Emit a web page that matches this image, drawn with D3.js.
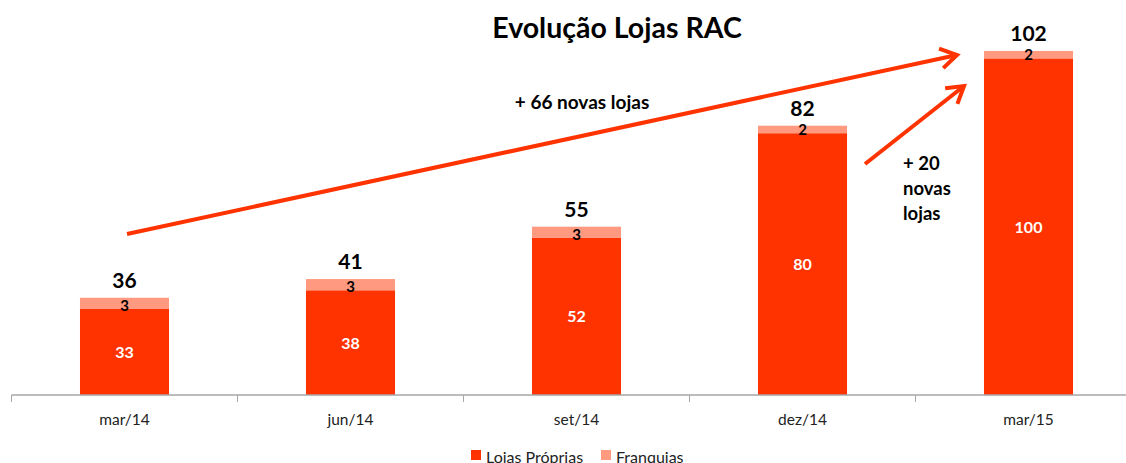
<!DOCTYPE html>
<html>
<head>
<meta charset="utf-8">
<script src="https://cdn.jsdelivr.net/npm/d3@7"></script>
<style>
  html, body { margin: 0; padding: 0; background: #fff; }
  #chart { width: 1126px; height: 463px; overflow: hidden; }
  text { font-family: Lato, "Open Sans", sans-serif; }
</style>
</head>
<body>
<div id="chart"></div>
<script>
// chart data
const periods = ['mar/14', 'jun/14', 'set/14', 'dez/14', 'mar/15'];
const proprias = [33, 38, 52, 80, 100];
const franquias = [3, 3, 3, 2, 2];
const seriesNames = ['Lojas Próprias', 'Franquias'];
const seriesColors = ['#ff3300', '#ff9980'];

const width = 1126, height = 463;
const margin = { left: 11.5, right: -15.5, top: 21, bottom: 68 };

const svg = d3.select('#chart').append('svg')
  .attr('width', width)
  .attr('height', height);

const x = d3.scaleBand()
  .domain(periods)
  .range([margin.left, width - margin.right])
  .paddingInner(0.606)
  .paddingOuter(0.303);

// value axis in the original starts at 10
const y = d3.scaleLinear()
  .domain([10, 110])
  .range([height - margin.bottom, margin.top]);

const rows = periods.map((p, i) => ({ period: p, proprias: proprias[i], franquias: franquias[i] }));
const stacked = d3.stack().keys(['proprias', 'franquias'])(rows);

// title
svg.append('text')
  .attr('x', 617).attr('y', 38)
  .attr('text-anchor', 'middle')
  .style('font-size', '28.5px').style('font-weight', 'bold')
  .text('Evolução Lojas RAC');

// bars
stacked.forEach((layer, li) => {
  svg.append('g').selectAll('rect')
    .data(layer)
    .join('rect')
    .attr('x', d => x(d.data.period))
    .attr('width', x.bandwidth())
    .attr('y', d => y(d[1]))
    .attr('height', d => y(Math.max(d[0], 10)) - y(d[1]))
    .attr('fill', seriesColors[li]);
});

// axis
const axisY = height - margin.bottom;
const step = x.step();
const tickXs = periods.map(p => x(p) + x.bandwidth() / 2 - step / 2);
const axisG = svg.append('g');
axisG.append('line')
  .attr('x1', tickXs[0]).attr('x2', width)
  .attr('y1', axisY).attr('y2', axisY)
  .attr('stroke', '#a6a6a6').attr('stroke-width', 1.5);
axisG.selectAll('line.tick')
  .data(tickXs)
  .join('line')
  .attr('class', 'tick')
  .attr('x1', d => d).attr('x2', d => d)
  .attr('y1', axisY).attr('y2', axisY + 7)
  .attr('stroke', '#a6a6a6');
axisG.selectAll('text')
  .data(periods)
  .join('text')
  .attr('x', d => x(d) + x.bandwidth() / 2)
  .attr('y', axisY + 30)
  .attr('text-anchor', 'middle')
  .style('font-size', '15.5px').attr('fill', '#222')
  .text(d => d);

// labels inside bars
svg.append('g').selectAll('text')
  .data(stacked[0])
  .join('text')
  .attr('x', d => x(d.data.period) + x.bandwidth() / 2)
  .attr('y', d => (y(d[1]) + y(10)) / 2 + 6)
  .attr('text-anchor', 'middle')
  .attr('fill', '#fff')
  .style('font-size', '16px').style('font-weight', 'bold')
  .text(d => d.data.proprias);

svg.append('g').selectAll('text')
  .data(stacked[1])
  .join('text')
  .attr('x', d => x(d.data.period) + x.bandwidth() / 2)
  .attr('y', d => y(d[0]) + 2)
  .attr('text-anchor', 'middle')
  .attr('fill', '#000')
  .style('font-size', '15px').style('font-weight', 'bold')
  .text(d => d.data.franquias);

// totals
svg.append('g').selectAll('text')
  .data(stacked[1])
  .join('text')
  .attr('x', d => x(d.data.period) + x.bandwidth() / 2)
  .attr('y', d => y(d[1]) - 10)
  .attr('text-anchor', 'middle')
  .attr('fill', '#000')
  .style('font-size', '21px').style('font-weight', 'bold')
  .text(d => d.data.proprias + d.data.franquias);

// arrows
function arrow(x1, y1, x2, y2) {
  const g = svg.append('g')
    .attr('stroke', '#ff3300').attr('stroke-width', 4)
    .attr('fill', 'none').attr('stroke-linecap', 'butt');
  g.append('line').attr('x1', x1).attr('y1', y1).attr('x2', x2).attr('y2', y2);
  const a = Math.atan2(y2 - y1, x2 - x1);
  const len = 19, spread = 0.55;
  const pts = [
    [x2 - len * Math.cos(a - spread), y2 - len * Math.sin(a - spread)],
    [x2, y2],
    [x2 - len * Math.cos(a + spread), y2 - len * Math.sin(a + spread)]
  ];
  g.append('path').attr('d', d3.line()(pts)).attr('stroke-linejoin', 'miter');
}
arrow(127, 234, 957, 55);
arrow(865, 164, 964, 86);

svg.append('text')
  .attr('x', 582).attr('y', 109)
  .attr('text-anchor', 'middle')
  .style('font-size', '19px').style('font-weight', 'bold')
  .text('+ 66 novas lojas');

const note = svg.append('text')
  .attr('x', 903).attr('y', 170)
  .style('font-size', '18.5px').style('font-weight', 'bold');
['+ 20', 'novas', 'lojas'].forEach((t, i) => {
  note.append('tspan').attr('x', 903).attr('dy', i ? 25 : 0).text(t);
});

// legend
const legend = svg.append('g');
const legendItems = [{ x: 471, name: seriesNames[0], color: seriesColors[0] }, { x: 601, name: seriesNames[1], color: seriesColors[1] }];
legendItems.forEach(it => {
  legend.append('rect').attr('x', it.x).attr('y', 450).attr('width', 10).attr('height', 10).attr('fill', it.color);
  legend.append('text').attr('x', it.x + 15).attr('y', 463)
    .style('font-size', '16px').attr('fill', '#222').text(it.name);
});
</script>
</body>
</html>
